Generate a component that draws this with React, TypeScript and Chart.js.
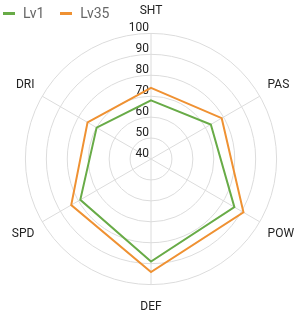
import React, { useEffect, useRef } from "react";
import { Chart, registerables } from "chart.js";

Chart.register(...registerables);

const categories = ["SHT", "PAS", "POW", "DEF", "SPD", "DRI"];
const lv1Values = [68, 73, 86, 89, 79, 70];
const lv35Values = [74, 79, 91, 94, 84, 75];
const tickValues = [40, 50, 60, 70, 80, 90, 100];
const seriesNames = ["Lv1", "Lv35"];
const seriesColors = ["#68ab47", "#ef9132"];

const FONT = "Roboto, 'Noto Sans', sans-serif";

const tickLabelPlugin = {
  id: "customTickLabels",
  beforeDatasetsDraw(chart: any) {
    const s = chart.scales.r;
    const ctx = chart.ctx;
    ctx.save();
    ctx.font = `12px ${FONT}`;
    ctx.fillStyle = "#222";
    ctx.textAlign = "right";
    ctx.textBaseline = "alphabetic";
    tickValues.forEach((v) => {
      const d = s.getDistanceFromCenterForValue(v);
      ctx.fillText(String(v), s.xCenter - 2, s.yCenter - d - 2.5);
    });
    ctx.restore();
  },
};

export default function App() {
  const canvasRef = useRef<HTMLCanvasElement | null>(null);

  useEffect(() => {
    document.body.style.margin = "0";
    const canvas = canvasRef.current;
    if (!canvas) return;
    const chart = new Chart(canvas, {
      type: "radar",
      data: {
        labels: categories,
        datasets: [
          {
            label: seriesNames[0],
            data: lv1Values,
            borderColor: seriesColors[0],
            backgroundColor: "transparent",
            borderWidth: 2,
            fill: false,
            pointRadius: 0,
            pointHoverRadius: 0,
          },
          {
            label: seriesNames[1],
            data: lv35Values,
            borderColor: seriesColors[1],
            backgroundColor: "transparent",
            borderWidth: 2,
            fill: false,
            pointRadius: 0,
            pointHoverRadius: 0,
          },
        ],
      },
      options: {
        animation: false,
        responsive: true,
        maintainAspectRatio: false,
        layout: { padding: { top: 4, bottom: 2, left: 0, right: 0 } },
        plugins: {
          legend: { display: false },
          tooltip: { enabled: false },
        },
        elements: { line: { tension: 0 } },
        scales: {
          r: {
            min: 40,
            max: 100,
            ticks: { display: false, stepSize: 10 },
            grid: { circular: true, color: "#dcdcdc", lineWidth: 1 },
            angleLines: { color: "#dcdcdc", lineWidth: 1 },
            pointLabels: {
              padding: (c: any) => (c.index === 0 || c.index === 3 ? 15 : 9),
              color: "#222",
              font: { family: FONT, size: 12 },
            },
          },
        },
      },
      plugins: [tickLabelPlugin],
    });
    return () => chart.destroy();
  }, []);

  return (
    <div style={{ position: "relative", width: 308, height: 317 }}>
      <canvas ref={canvasRef} />
      <div
        style={{
          position: "absolute",
          left: 3,
          top: 6,
          height: 15,
          display: "flex",
          alignItems: "center",
          gap: 16,
          fontFamily: FONT,
          fontSize: 14,
          color: "#666",
          lineHeight: "15px",
        }}
      >
        {seriesNames.map((name, i) => (
          <span key={name} style={{ display: "flex", alignItems: "center" }}>
            <span
              style={{
                display: "inline-block",
                width: 12,
                height: 3,
                background: seriesColors[i],
                marginRight: 8,
              }}
            />
            <span>{name}</span>
          </span>
        ))}
      </div>
    </div>
  );
}
